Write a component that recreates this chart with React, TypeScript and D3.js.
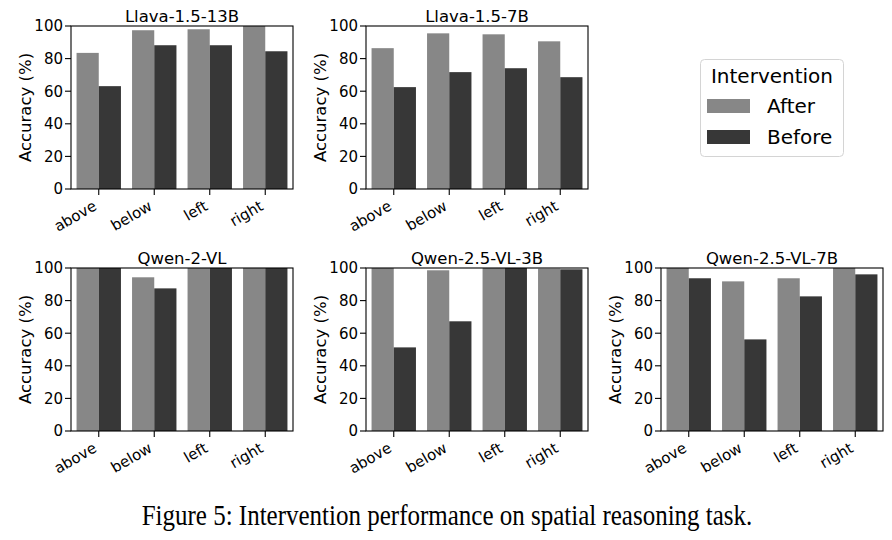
import React from "react";
import { scaleBand, scaleLinear } from "d3";

const categories = ["above", "below", "left", "right"];
const yTicks = [0, 20, 40, 60, 80, 100];
const hues = ["After", "Before"];
const hueColors = ["#878787", "#373737"];

const modelNames = ["Llava-1.5-13B", "Llava-1.5-7B", "Qwen-2-VL", "Qwen-2.5-VL-3B", "Qwen-2.5-VL-7B"];

const llava13After = [83.5, 97.4, 98.0, 100];
const llava13Before = [63.1, 88.2, 88.2, 84.5];
const llava7After = [86.4, 95.5, 94.9, 90.6];
const llava7Before = [62.5, 71.7, 74.1, 68.6];
const qwen2After = [100, 94.3, 100, 100];
const qwen2Before = [100, 87.5, 100, 100];
const qwen25_3After = [100, 98.6, 100, 99.6];
const qwen25_3Before = [51.3, 67.3, 100, 99.2];
const qwen25_7After = [100, 91.8, 93.7, 100];
const qwen25_7Before = [93.7, 56.2, 82.6, 96.1];

const panelData = [
  [llava13After, llava13Before],
  [llava7After, llava7Before],
  [qwen2After, qwen2Before],
  [qwen25_3After, qwen25_3Before],
  [qwen25_7After, qwen25_7Before],
];

// grid slots for each panel (col, row)
const slots = [
  [0, 0],
  [1, 0],
  [0, 1],
  [1, 1],
  [2, 1],
];

const W = 892;
const H = 540;
const colLeft = [71, 366, 661];
const rowTop = [26, 268];
const pw = 222;
const ph = 163;
const font = "DejaVu Sans, sans-serif";

type PanelProps = {
  title: string;
  series: number[][];
  x0: number;
  y0: number;
};

function Panel({ title, series, x0, y0 }: PanelProps) {
  const x = scaleBand<string>().domain(categories).range([0, pw]).paddingInner(0.2).paddingOuter(0.1);
  const xHue = scaleBand<string>().domain(hues).range([0, x.bandwidth()]);
  const y = scaleLinear().domain([0, 100]).range([ph, 0]);

  return (
    <g transform={`translate(${x0},${y0})`}>
      {categories.map((cat, i) => (
        <g key={cat}>
          {hues.map((hue, h) => (
            <rect
              key={hue}
              x={(x(cat) ?? 0) + (xHue(hue) ?? 0)}
              y={y(series[h][i])}
              width={xHue.bandwidth()}
              height={ph - y(series[h][i])}
              fill={hueColors[h]}
            />
          ))}
        </g>
      ))}
      <rect x={0} y={0} width={pw} height={ph} fill="none" stroke="#000" strokeWidth={1.1} />
      {yTicks.map((t) => (
        <g key={t} transform={`translate(0,${y(t)})`}>
          <line x1={-6} x2={0} stroke="#000" strokeWidth={1.1} />
          <text x={-8} dy="0.36em" textAnchor="end" fontSize={15} fontFamily={font} fill="#000">
            {t}
          </text>
        </g>
      ))}
      {categories.map((cat) => {
        const cx = (x(cat) ?? 0) + x.bandwidth() / 2;
        return (
          <g key={cat}>
            <line x1={cx} x2={cx} y1={ph} y2={ph + 6} stroke="#000" strokeWidth={1.1} />
            <text
              transform={`translate(${cx - 1},${ph + 20}) rotate(-30)`}
              textAnchor="end"
              fontSize={15}
              fontFamily={font}
              fill="#000"
            >
              {cat}
            </text>
          </g>
        );
      })}
      <text x={pw / 2} y={-4.5} textAnchor="middle" fontSize={16.5} fontFamily={font} fill="#000">
        {title}
      </text>
      <text
        transform={`translate(-46,${ph / 2}) rotate(-90)`}
        dy="0.36em"
        textAnchor="middle"
        fontSize={16.5}
        fontFamily={font}
        fill="#000"
      >
        Accuracy (%)
      </text>
    </g>
  );
}

export default function App() {
  return (
    <svg
      width={W}
      height={H}
      viewBox={`0 0 ${W} ${H}`}
      style={{ position: "absolute", left: 0, top: 0, background: "#fff" }}
    >
      <rect width={W} height={H} fill="#fff" />
      {modelNames.map((name, i) => (
        <Panel key={name} title={name} series={panelData[i]} x0={colLeft[slots[i][0]]} y0={rowTop[slots[i][1]]} />
      ))}

      <g transform="translate(700,59)">
        <rect x={0.5} y={0.5} width={143} height={97} rx={4} fill="#fff" stroke="#d4d4d4" strokeWidth={1} />
        <text x={72} y={24} textAnchor="middle" fontSize={20} fontFamily={font} fill="#000">
          Intervention
        </text>
        {hues.map((hue, h) => (
          <g key={hue} transform={`translate(0,${47 + h * 31})`}>
            <rect x={7} y={-7} width={43} height={14} fill={hueColors[h]} />
            <text x={67} y={7} fontSize={20} fontFamily={font} fill="#000">
              {hue}
            </text>
          </g>
        ))}
      </g>

      <text
        transform="translate(447,525) scale(1,1.18)"
        textAnchor="middle"
        fontSize={25}
        fontFamily="Liberation Serif, Times New Roman, serif"
        fill="#000"
      >
        Figure 5: Intervention performance on spatial reasoning task.
      </text>
    </svg>
  );
}
